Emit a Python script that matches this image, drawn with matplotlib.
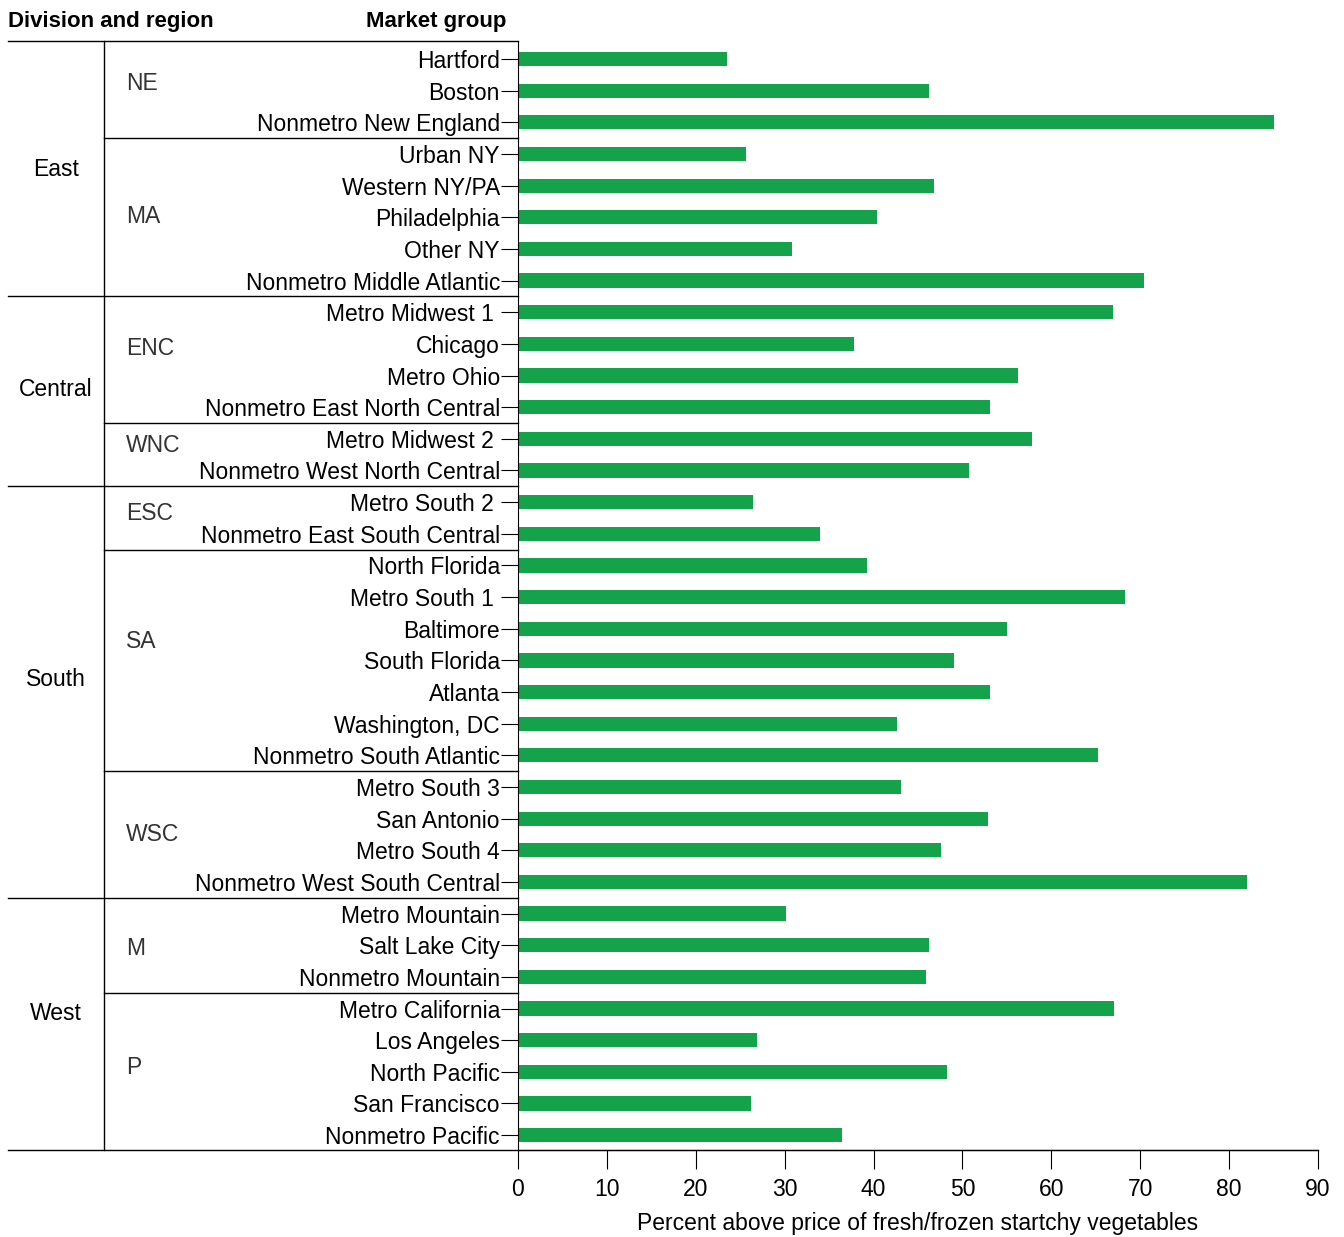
import matplotlib.pyplot as plt
import matplotlib.transforms as mtransforms

plt.rcParams['font.family'] = ['Liberation Sans', 'DejaVu Sans']

markets = ['Hartford', 'Boston', 'Nonmetro New England', 'Urban NY', 'Western NY/PA',
           'Philadelphia', 'Other NY', 'Nonmetro Middle Atlantic', 'Metro Midwest 1 ',
           'Chicago', 'Metro Ohio', 'Nonmetro East North Central', 'Metro Midwest 2 ',
           'Nonmetro West North Central', 'Metro South 2 ', 'Nonmetro East South Central',
           'North Florida', 'Metro South 1 ', 'Baltimore', 'South Florida', 'Atlanta',
           'Washington, DC', 'Nonmetro South Atlantic', 'Metro South 3', 'San Antonio',
           'Metro South 4', 'Nonmetro West South Central', 'Metro Mountain', 'Salt Lake City',
           'Nonmetro Mountain', 'Metro California', 'Los Angeles', 'North Pacific',
           'San Francisco', 'Nonmetro Pacific']
values = [23.5, 46.2, 85.0, 25.6, 46.8, 40.4, 30.8, 70.4, 66.9, 37.8, 56.2, 53.1, 57.8,
          50.7, 26.4, 34.0, 39.3, 68.3, 55.0, 49.0, 53.1, 42.6, 65.2, 43.1, 52.9, 47.6,
          82.0, 30.1, 46.2, 45.9, 67.0, 26.9, 48.3, 26.2, 36.4]

divisions = ['East', 'Central', 'South', 'West']
division_pos = [3.5, 10.45, 19.6, 30.15]
division_breaks = [7.5, 13.5, 26.5]
regions = ['NE', 'MA', 'ENC', 'WNC', 'ESC', 'SA', 'WSC', 'M', 'P']
region_pos = [0.76, 4.99, 9.16, 12.2, 14.35, 18.4, 24.5, 28.1, 31.85]
region_breaks = [2.5, 11.5, 15.5, 22.5, 29.5]

fs = 16.5
fig = plt.figure(figsize=(13.44, 12.37), dpi=100)
ax = fig.add_axes([518/1344, 1-1150/1237, 800/1344, 1109/1237])
rows = list(range(len(markets)))
ax.barh(rows, values, height=0.45, color='#14a34a')
ax.set_xlim(0, 90)
ax.set_ylim(34.47, -0.57)
ax.set_yticks(rows)
ax.set_yticklabels(markets, fontsize=fs)
ax.set_xticks(range(0, 91, 10))
ax.tick_params(axis='x', labelsize=fs, length=14, direction='out', pad=6)
ax.tick_params(axis='y', length=12, direction='out', pad=1)
ax.set_xlabel('Percent above price of fresh/frozen startchy vegetables', fontsize=fs, labelpad=8)
for s in ['top', 'right']:
    ax.spines[s].set_visible(False)

tr = mtransforms.blended_transform_factory(fig.transFigure, ax.transData)
x0, xr, xa = 8/1344, 104/1344, 518/1344
kw = dict(transform=tr, color='black', lw=1, clip_on=False)
ax.plot([x0, 1318/1344], [34.47, 34.47], **kw)
ax.plot([x0, xa], [-0.57, -0.57], **kw)
ax.plot([xr, xr], [-0.57, 34.47], **kw)
for b in division_breaks:
    ax.plot([x0, xa], [b, b], **kw)
for b in region_breaks:
    ax.plot([xr, xa], [b, b], **kw)
for name, p in zip(divisions, division_pos):
    ax.text(56/1344, p, name, transform=tr, ha='center', va='center', fontsize=fs)
for name, p in zip(regions, region_pos):
    ax.text(126/1344, p, name, transform=tr, ha='left', va='center', fontsize=fs, color='#333333')

fig.text(8/1344, 1-21/1237, 'Division and region', fontsize=16, fontweight='bold', va='center')
fig.text(506/1344, 1-21/1237, 'Market group', fontsize=16, fontweight='bold', va='center', ha='right')

fig.savefig('out.png', dpi=100)
